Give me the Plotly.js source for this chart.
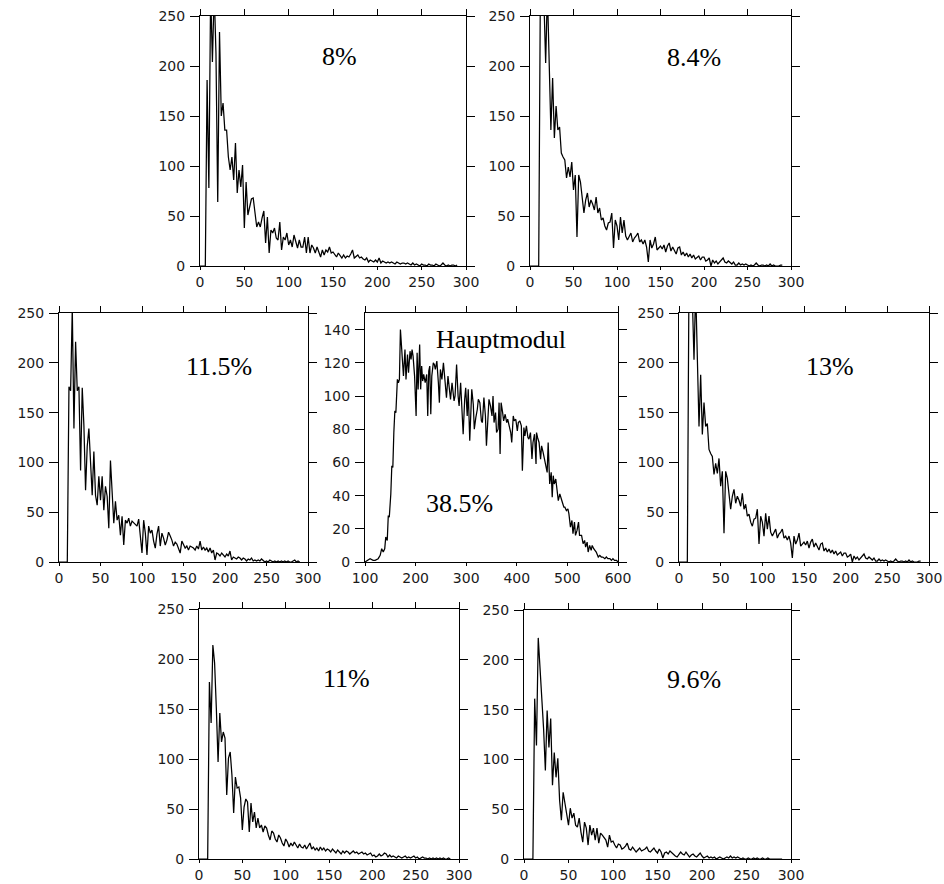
<!DOCTYPE html>
<html><head><meta charset="utf-8">
<script src="https://cdn.plot.ly/plotly-3.0.1.min.js"></script>
<style>html,body{margin:0;padding:0;background:#fff}#chart{width:944px;height:884px}</style>
</head><body><div id="chart"></div>
<script>
// ---- data (counts per bin, bins start at 0 with width 2) ----
const decayStart = 0, decayStep = 2;
const counts8 = [
 0,0,0,0,186,78,275,204,275,213,
 64,234,150,163,136,136,109,96,109,86,
 123,73,96,79,101,38,84,51,59,67,
 68,53,39,44,39,48,55,23,49,13,
 36,33,38,28,26,44,16,29,26,33,
 21,26,19,31,24,18,26,19,19,29,
 13,29,13,21,18,13,19,14,9,16,
 11,16,14,19,13,14,12,9,13,10,
 8,11,8,10,9,12,16,8,10,11,
 8,9,7,6,8,4,6,5,4,6,
 4,8,3,5,4,3,4,3,4,3,
 2,4,3,2,3,3,2,3,2,1,
 3,1,2,1,0,2,1,1,0,2,
 1,1,0,2,1,0,1,3,1,0,
 1,0,1,1,0,1];
const counts84 = [
 0,0,0,0,0,0,290,270,265,203,
 275,193,136,188,128,160,136,139,113,109,
 106,88,99,89,104,76,91,29,91,84,
 69,53,66,73,59,66,62,56,69,53,
 58,46,48,40,36,43,44,53,18,46,
 40,26,49,33,46,30,26,29,33,24,
 28,30,33,24,26,22,26,19,4,26,
 18,22,29,16,18,20,17,21,14,20,
 23,15,19,16,12,18,19,11,14,10,
 13,9,12,8,11,7,9,10,6,9,
 9,5,6,8,0,6,3,5,2,4,
 5,8,4,3,5,3,2,4,1,1,
 3,1,2,1,2,1,0,1,0,1,
 3,1,0,1,1,0,1,0,2,0,
 1,0,0,0,1,1];
const counts115 = [
 0,0,0,0,0,0,176,172,255,134,
 221,172,176,92,175,137,72,116,134,96,
 67,111,67,57,86,62,86,52,76,66,
 34,102,66,39,61,42,47,27,46,17,
 42,39,44,36,41,39,37,36,43,22,
 9,42,29,7,36,29,32,21,14,28,
 36,16,29,24,17,22,30,26,22,16,
 20,18,14,9,21,18,14,16,12,16,
 15,14,12,16,13,21,12,15,12,14,
 10,14,9,12,2,9,8,6,9,7,
 5,8,6,11,2,5,4,3,5,4,
 2,4,3,1,3,2,4,1,2,1,
 2,1,3,1,0,1,0,2,1,0,
 1,0,1,0,1,0,1,0,1,0,
 0,1,2,0,1,0];
const counts13 = counts84; // the 13% panel shows the same histogram as the 8.4% panel
const counts11 = [
 0,0,0,0,0,0,177,136,214,196,
 151,97,146,117,127,121,64,101,107,84,
 46,82,71,72,61,29,52,60,57,27,
 56,37,47,31,41,31,34,27,33,31,
 24,19,28,26,20,17,24,21,16,13,
 20,17,12,16,13,17,14,11,15,12,
 11,14,10,13,16,10,12,9,11,8,
 12,9,11,8,10,9,7,10,8,6,
 9,7,5,8,6,8,7,5,7,8,
 6,7,5,6,7,5,6,4,5,6,
 3,4,2,3,5,3,4,6,5,2,
 4,2,3,2,1,3,2,1,2,3,
 1,2,1,2,3,1,2,0,1,2,
 1,1,0,1,0,1,0,1,0,1,
 0,1,0,0,1,0];
const counts96 = [
 0,0,0,0,0,0,161,114,222,194,
 164,131,89,149,112,141,74,107,82,101,
 59,39,67,57,47,34,51,41,46,34,
 32,41,27,17,37,31,14,34,24,31,
 19,31,16,26,24,21,19,12,24,17,
 18,14,11,15,14,10,11,13,16,10,
 9,12,10,7,9,11,8,9,10,12,
 8,7,9,11,8,6,10,7,1,6,
 7,5,8,6,5,3,2,5,7,5,
 4,7,5,2,4,5,3,2,4,6,
 3,1,2,3,1,2,1,2,0,1,
 2,1,0,1,2,1,3,1,2,1,
 2,1,0,1,0,0,1,0,0,1,
 0,1,0,0,1,0,0,1,0,0,
 0,0,0,0,0,0];
const mainX = [
 100,104,110,116,120,126,130,133,136,139,
 141,144,146,148,151,153,155,157,159,161,
 164,166,168,170,173,176,179,181,184,186,
 189,191,193,195,198,201,203,205,208,210,
 212,214,216,219,222,224,226,228,230,232,
 235,237,239,242,245,247,249,252,255,258,
 261,264,266,269,272,276,278,281,284,286,
 289,291,294,297,299,302,304,307,309,311,
 314,316,319,322,324,327,330,332,335,338,
 340,343,345,348,351,353,355,358,360,363,
 365,367,369,372,374,377,380,382,385,388,
 390,393,395,398,401,403,406,409,411,414,
 416,419,422,424,427,430,432,435,438,439,
 441,444,447,449,452,455,457,460,462,465,
 468,470,472,474,477,480,482,485,488,490,
 493,495,498,501,503,506,509,511,514,516,
 519,522,524,528,531,534,536,539,541,544,
 547,549,552,555,557,561,564,567,570,574,
 577,580,584,587,590,593,597,600];
const mainY = [
 0,1,2,1,1,2,4,8,6,8,
 15,13,28,27,41,58,57,78,91,90,
 110,108,110,140,126,112,128,110,125,114,
 127,122,128,124,112,88,126,104,131,104,
 118,109,113,108,113,88,115,118,89,112,
 120,119,116,121,108,96,116,110,120,110,
 99,112,104,98,108,97,100,119,100,94,
 108,95,77,98,105,88,104,73,96,104,
 95,80,87,92,98,96,85,84,99,88,
 70,88,98,94,88,100,84,90,78,80,
 96,65,96,90,85,89,84,86,82,78,
 72,88,85,86,79,84,85,82,55,81,
 76,82,75,74,78,62,72,77,59,78,
 75,72,62,70,66,62,58,54,72,47,
 54,39,52,47,50,43,37,41,37,36,
 33,33,31,32,29,21,25,17,24,16,
 19,24,16,16,11,13,9,12,6,10,
 7,10,8,7,6,3,4,3,3,2,
 3,2,2,1,2,1,1,0];
const decayXTicks = [0,50,100,150,200,250,300];
const decayYTicks = [0,50,100,150,200,250];
const mainXTicks = [100,200,300,400,500,600];
const mainYTicks = [0,20,40,60,80,100,120,140];
const panelTexts = [['8%'],['8.4%'],['11.5%'],['Hauptmodul','38.5%'],['13%'],['11%'],['9.6%']];

// ---- layout (pixel boxes of the panels) ----
const W = 944, H = 884;
const decayRange = {x:[0,300], y:[0,250]};
const mainRange = {x:[100,600], y:[0,150]};
const panels = [
 {box:[200,16,466,266], y:counts8,   pos:[[157,210]]},
 {box:[530,16,791,266], y:counts84,  pos:[[188,209]]},
 {box:[59,313,308,562], y:counts115, pos:[[193,196]]},
 {box:[365,313,618,562], x:mainX, y:mainY, main:true, pos:[[368,134],[287,35]]},
 {box:[679,313,929,562], y:counts13, pos:[[181,196]]},
 {box:[199,609,459,859], y:counts11, pos:[[170,181]]},
 {box:[524,610,791,859], y:counts96, pos:[[191,180]]}
];

const tickFont = {family:'DejaVu Sans, sans-serif', size:14, color:'#1a1a1a'};
const annFont = {family:'Liberation Serif, Times New Roman, serif', size:26, color:'#000'};
const traces = [];
const layout = {
  width:W, height:H, margin:{l:0,r:0,t:0,b:0},
  paper_bgcolor:'#fff', plot_bgcolor:'#fff', showlegend:false,
  annotations:[]
};
const n = panels.length;
panels.forEach((p, i) => {
  const k = i + 1, id = k === 1 ? '' : String(k);
  const ok = k + n;
  const [l, t, r, b] = p.box;
  const xr = p.main ? mainRange.x : decayRange.x;
  const yr = p.main ? mainRange.y : decayRange.y;
  const xt = p.main ? mainXTicks : decayXTicks;
  const yt = p.main ? mainYTicks : decayYTicks;
  const tr = {type:'scatter', mode:'lines', y:p.y, xaxis:'x'+id, yaxis:'y'+id,
    line:{color:'#000', width:1.25}, hoverinfo:'skip'};
  if (p.main) tr.x = p.x; else { tr.x0 = decayStart; tr.dx = decayStep; }
  traces.push(tr);
  traces.push({type:'scatter', mode:'lines', x:[], y:[], xaxis:'x'+ok, yaxis:'y'+ok, hoverinfo:'skip'});
  const common = {showgrid:false, zeroline:false, showline:true, linecolor:'#000', linewidth:1,
    fixedrange:true, tickcolor:'#000', tickwidth:1, tickmode:'array'};
  layout['xaxis'+id] = Object.assign({}, common, {domain:[l/W, r/W], anchor:'y'+id, range:xr,
    tickvals:xt, ticks:'outside', ticklen:3, tickfont:tickFont, ticklabelstandoff:0});
  layout['yaxis'+id] = Object.assign({}, common, {domain:[1-b/H, 1-t/H], anchor:'x'+id, range:yr,
    tickvals:yt, ticks:'outside', ticklen:9, tickfont:tickFont, ticklabelstandoff:2});
  layout['xaxis'+ok] = Object.assign({}, common, {overlaying:'x'+id, anchor:'y'+id, side:'top', range:xr,
    tickvals:xt, ticks:'outside', ticklen:6, showticklabels:false});
  layout['yaxis'+ok] = Object.assign({}, common, {overlaying:'y'+id, anchor:'x'+id, side:'right', range:yr,
    tickvals:yt, ticks:'outside', ticklen:8, showticklabels:false});
  panelTexts[i].forEach((txt, j) => {
    layout.annotations.push({xref:'x'+id, yref:'y'+id, x:p.pos[j][0], y:p.pos[j][1], text:txt,
      showarrow:false, font:annFont, xanchor:'center', yanchor:'middle'});
  });
});
Plotly.newPlot('chart', traces, layout, {displayModeBar:false, staticPlot:true});
</script>
</body></html>
